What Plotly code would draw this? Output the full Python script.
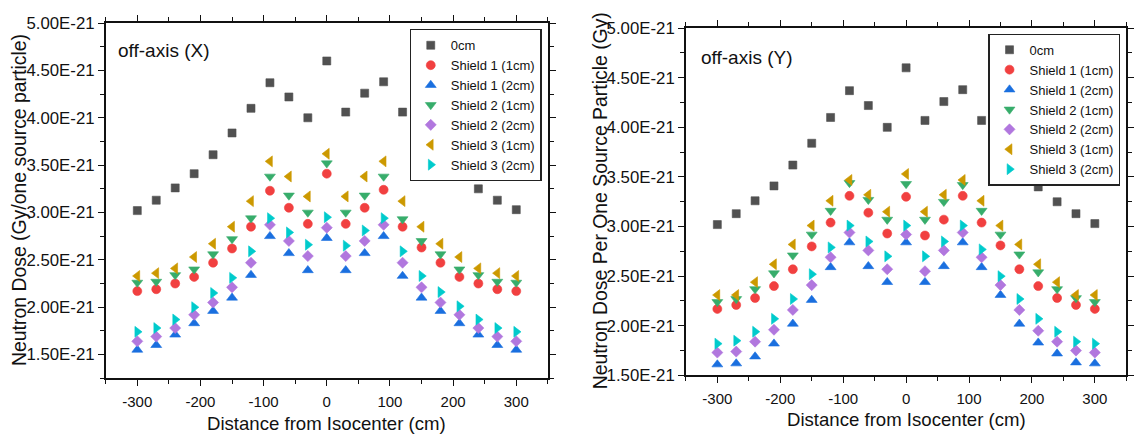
import numpy as np
import plotly.graph_objects as go

# ---------------- data (dose values in units of 1E-21) ----------------
distance = [-300, -270, -240, -210, -180, -150, -120, -90, -60, -30, 0,
            30, 60, 90, 120, 150, 180, 210, 240, 270, 300]

series_names = ["0cm", "Shield 1 (1cm)", "Shield 1 (2cm)", "Shield 2 (1cm)",
                "Shield 2 (2cm)", "Shield 3 (1cm)", "Shield 3 (2cm)"]

# off-axis (X)
x_0cm = [3.02, 3.13, 3.26, 3.41, 3.61, 3.84, 4.10, 4.37, 4.22, 4.00, 4.60,
         4.06, 4.26, 4.38, 4.06, 3.80, 3.60, 3.40, 3.25, 3.13, 3.03]
x_s1_1 = [2.17, 2.19, 2.25, 2.32, 2.47, 2.62, 2.85, 3.23, 3.05, 2.88, 3.41,
          2.88, 3.05, 3.24, 2.85, 2.63, 2.47, 2.32, 2.25, 2.19, 2.17]
x_s1_2 = [1.55, 1.60, 1.71, 1.83, 1.96, 2.10, 2.34, 2.75, 2.57, 2.39, 2.73,
          2.39, 2.57, 2.75, 2.33, 2.10, 1.96, 1.83, 1.71, 1.60, 1.55]
x_s2_1 = [2.26, 2.27, 2.34, 2.40, 2.56, 2.72, 2.94, 3.38, 3.18, 3.00, 3.52,
          3.00, 3.18, 3.38, 2.93, 2.70, 2.56, 2.40, 2.34, 2.27, 2.26]
x_s2_2 = [1.64, 1.69, 1.78, 1.92, 2.05, 2.21, 2.47, 2.87, 2.70, 2.54, 2.84,
          2.54, 2.70, 2.87, 2.47, 2.21, 2.05, 1.92, 1.78, 1.69, 1.64]
x_s3_1 = [2.33, 2.36, 2.41, 2.53, 2.67, 2.85, 3.12, 3.54, 3.38, 3.17, 3.62,
          3.17, 3.38, 3.54, 3.12, 2.85, 2.67, 2.53, 2.41, 2.36, 2.33]
x_s3_2 = [1.74, 1.78, 1.87, 2.00, 2.15, 2.31, 2.59, 2.94, 2.79, 2.66, 2.95,
          2.65, 2.81, 2.94, 2.59, 2.33, 2.16, 2.01, 1.87, 1.78, 1.74]

# off-axis (Y)
y_0cm = [3.02, 3.13, 3.26, 3.41, 3.62, 3.84, 4.10, 4.37, 4.22, 4.00, 4.60,
         4.07, 4.26, 4.38, 4.07, 3.81, 3.60, 3.40, 3.25, 3.13, 3.03]
y_s1_1 = [2.17, 2.21, 2.28, 2.40, 2.57, 2.80, 3.04, 3.31, 3.14, 2.93, 3.30,
          2.91, 3.07, 3.31, 3.04, 2.81, 2.57, 2.40, 2.28, 2.21, 2.17]
y_s1_2 = [1.61, 1.62, 1.69, 1.82, 2.02, 2.26, 2.59, 2.84, 2.60, 2.44, 2.84,
          2.44, 2.60, 2.84, 2.59, 2.31, 2.02, 1.83, 1.72, 1.63, 1.62]
y_s2_1 = [2.24, 2.27, 2.37, 2.53, 2.71, 2.92, 3.16, 3.44, 3.27, 3.07, 3.43,
          3.07, 3.25, 3.42, 3.16, 2.92, 2.72, 2.54, 2.37, 2.28, 2.24]
y_s2_2 = [1.73, 1.74, 1.84, 1.96, 2.16, 2.41, 2.69, 2.94, 2.76, 2.57, 2.92,
          2.55, 2.76, 2.94, 2.69, 2.41, 2.16, 1.95, 1.84, 1.75, 1.73]
y_s3_1 = [2.31, 2.31, 2.44, 2.62, 2.82, 3.01, 3.26, 3.47, 3.32, 3.15, 3.53,
          3.15, 3.32, 3.47, 3.26, 3.01, 2.82, 2.62, 2.44, 2.31, 2.31]
y_s3_2 = [1.82, 1.85, 1.94, 2.07, 2.27, 2.52, 2.79, 3.01, 2.85, 2.70, 3.01,
          2.70, 2.85, 3.01, 2.77, 2.50, 2.27, 2.07, 1.94, 1.84, 1.82]

x_panel = [x_0cm, x_s1_1, x_s1_2, x_s2_1, x_s2_2, x_s3_1, x_s3_2]
y_panel = [y_0cm, y_s1_1, y_s1_2, y_s2_1, y_s2_2, y_s3_1, y_s3_2]

x_ticks = [-300, -200, -100, 0, 100, 200, 300]
x_minor = [-350, -250, -150, -50, 50, 150, 250, 350]
y_ticks = [1.5, 2.0, 2.5, 3.0, 3.5, 4.0, 4.5, 5.0]
y_minor_left = [1.25, 1.75, 2.25, 2.75, 3.25, 3.75, 4.25, 4.75]
y_minor_right = [1.75, 2.25, 2.75, 3.25, 3.75, 4.25, 4.75]
SCALE = 1e-21

# ---------------- styles ----------------
colors = ["#515151", "#F14040", "#1A6FDF", "#37AD6B", "#B177DE", "#CC9900", "#00CBCC"]
symbols = ["square", "circle", "triangle-up", "triangle-down", "diamond",
           "triangle-left", "triangle-right"]
sizes = [8, 9, 9.5, 9.5, 8.5, 9.5, 9.5]
FONT = "Liberation Sans, Arial, sans-serif"
INK = "#111111"

W, H = 1134, 446


def px_x(p):
    return p / W


def px_y(p):
    return (H - p) / H


fig = go.Figure()

for i, name in enumerate(series_names):
    fig.add_trace(go.Scatter(
        x=distance, y=[v * SCALE for v in x_panel[i]], mode="markers", name=name,
        marker=dict(symbol=symbols[i], size=sizes[i], color=colors[i],
                    line=dict(width=0.6, color=colors[i])),
        xaxis="x", yaxis="y", legend="legend"))
for i, name in enumerate(series_names):
    fig.add_trace(go.Scatter(
        x=distance, y=[v * SCALE for v in y_panel[i]], mode="markers", name=name,
        marker=dict(symbol=symbols[i], size=sizes[i], color=colors[i],
                    line=dict(width=0.6, color=colors[i])),
        xaxis="x2", yaxis="y2", legend="legend2"))


def xaxis_cfg(domain, anchor):
    return dict(domain=domain, anchor=anchor, range=[-350, 350],
                tickmode="array", tickvals=x_ticks, ticktext=[str(t) for t in x_ticks],
                ticks="outside", ticklen=6, tickwidth=1.4, tickcolor=INK,
                showline=True, linecolor=INK, linewidth=1.6, mirror="allticks",
                showgrid=False, zeroline=False, ticklabelstandoff=3,
                tickfont=dict(family=FONT, size=15, color=INK),
                minor=dict(tickvals=x_minor, ticks="outside", ticklen=4,
                           tickwidth=1.3, tickcolor=INK, showgrid=False))


def yaxis_cfg(domain, anchor, rng, minor_vals):
    return dict(domain=domain, anchor=anchor, range=[rng[0] * SCALE, rng[1] * SCALE],
                tickmode="array", tickvals=[t * SCALE for t in y_ticks],
                ticktext=[f"{t * SCALE:.2E}" for t in y_ticks],
                ticks="outside", ticklen=6, tickwidth=1.4, tickcolor=INK,
                showline=True, linecolor=INK, linewidth=1.6, mirror="allticks",
                showgrid=False, zeroline=False,
                tickfont=dict(family=FONT, size=16.8, color=INK),
                minor=dict(tickvals=[m * SCALE for m in minor_vals], ticks="outside",
                           ticklen=4, tickwidth=1.3, tickcolor=INK, showgrid=False))


legend_common = dict(font=dict(family=FONT, size=13, color=INK), bgcolor="white",
                     bordercolor="#222222", borderwidth=1.2, xanchor="right",
                     yanchor="top", itemwidth=30, tracegroupgap=0)

fig.update_layout(
    width=W, height=H, margin=dict(l=0, r=0, t=0, b=0),
    paper_bgcolor="white", plot_bgcolor="white",
    font=dict(family=FONT, color=INK),
    xaxis=xaxis_cfg([px_x(106), px_x(549.3)], "y"),
    yaxis=yaxis_cfg([px_y(385.7), px_y(14.7)], "x", (1.25, 5.0), y_minor_left),
    xaxis2=xaxis_cfg([px_x(687.7), px_x(1129.3)], "y2"),
    yaxis2=yaxis_cfg([px_y(382.7), px_y(20)], "x2", (1.5, 5.0), y_minor_right),
    legend=dict(x=px_x(543), y=px_y(21), **legend_common),
    legend2=dict(x=px_x(1123.3), y=px_y(25.7), **legend_common),
    showlegend=True,
)

annotations = [
    dict(text="off-axis (X)", x=px_x(116), y=px_y(43.5), xanchor="left", yanchor="middle",
         font=dict(size=19)),
    dict(text="off-axis (Y)", x=px_x(701), y=px_y(51), xanchor="left", yanchor="middle",
         font=dict(size=19)),
    dict(text="Distance from Isocenter (cm)", x=px_x(327.5), y=px_y(433),
         xanchor="center", yanchor="middle", font=dict(size=18.6)),
    dict(text="Distance from Isocenter (cm)", x=px_x(908.5), y=px_y(429),
         xanchor="center", yanchor="middle", font=dict(size=18.6)),
    dict(text="Neutron Dose (Gy/one source particle)", x=px_x(18.5), y=px_y(199),
         xanchor="center", yanchor="middle", textangle=-90, font=dict(size=19.4)),
    dict(text="Neutron Dose Per One Source Particle (Gy)", x=px_x(602), y=px_y(200.5),
         xanchor="center", yanchor="middle", textangle=-90, font=dict(size=19.4)),
]
for a in annotations:
    a.update(xref="paper", yref="paper", showarrow=False)
    a["font"].update(family=FONT, color=INK)
fig.update_layout(annotations=annotations)

fig.write_html("out.html")
